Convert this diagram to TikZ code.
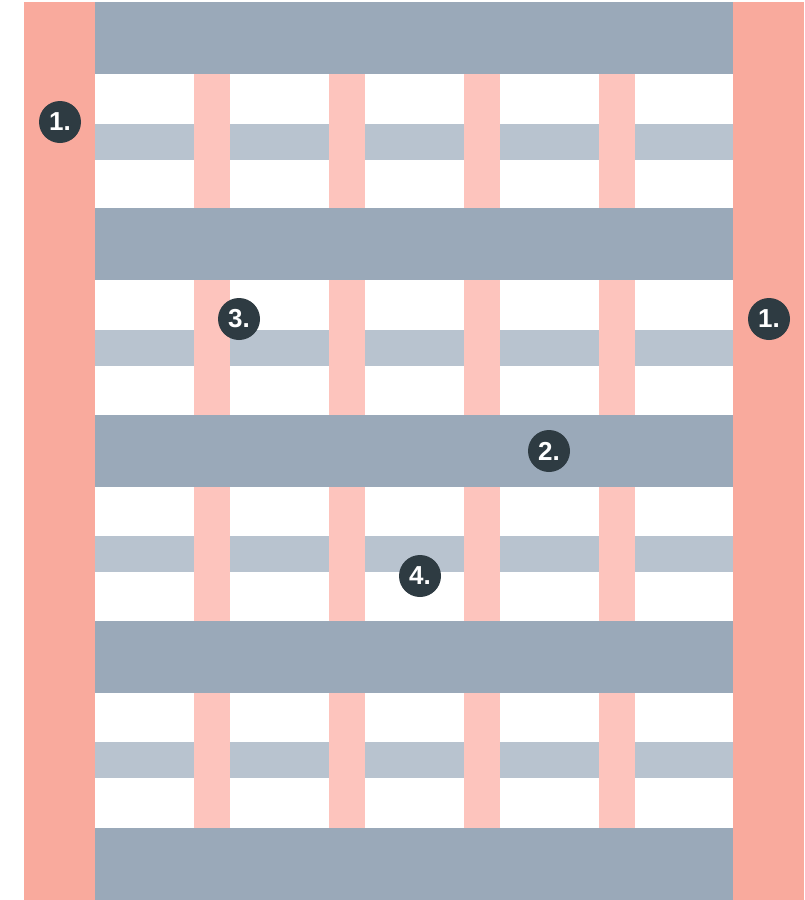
\documentclass[tikz,border=0pt]{standalone}
\usepackage{fontspec}
\setmainfont{Liberation Sans}
\definecolor{colpink}{HTML}{F9AA9D}
\definecolor{barpink}{HTML}{FDC4BD}
\definecolor{bandgray}{HTML}{9AA9B9}
\definecolor{lightgray}{HTML}{B8C3CF}
\definecolor{badgedark}{HTML}{2E3B42}
\begin{document}
\begin{tikzpicture}[x=1pt,y=-1pt,
  badge/.style={circle,fill=badgedark,minimum size=42pt,inner sep=0pt,text=white,font=\bfseries\fontsize{26}{26}\selectfont}]
\useasboundingbox (0,0) rectangle (804,900);
% light horizontal bands
\foreach \y in {124,330,536,742}
  \fill[lightgray] (95,\y) rectangle (733,\y+36);
% vertical pink bars
\foreach \y in {74,280,487,693}
  \foreach \x in {194,329,464,599}
    \fill[barpink] (\x,\y) rectangle (\x+36,\y+135);
% main gray bands
\foreach \y in {2,208,415,621,828}
  \fill[bandgray] (95,\y) rectangle (733,\y+72);
% side columns
\fill[colpink] (24,2) rectangle (95,900);
\fill[colpink] (733,2) rectangle (804,900);
% badges
\node[badge] (b1l) at (60,122) {1.};
\node[badge] (b1r) at (769,319) {1.};
\node[badge] (b3) at (239,319) {3.};
\node[badge] (b2) at (549,451) {2.};
\node[badge] (b4) at (420,576) {4.};
\end{tikzpicture}
\end{document}
